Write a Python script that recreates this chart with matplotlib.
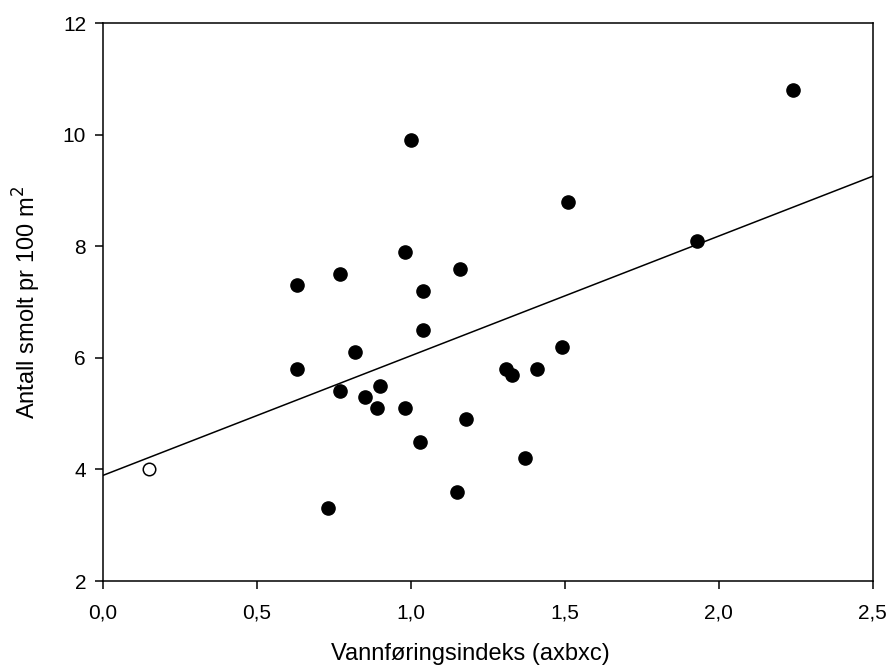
import numpy as np
import matplotlib.pyplot as plt

plt.rcParams['font.family'] = ['Liberation Sans', 'DejaVu Sans']

# filled points
x_fill = [0.73, 0.63, 0.63, 0.77, 0.77, 0.82, 0.85, 0.89, 0.90, 0.98, 0.98, 1.00,
          1.03, 1.04, 1.04, 1.15, 1.16, 1.18, 1.31, 1.33, 1.37, 1.41, 1.49, 1.51,
          1.93, 2.24]
y_fill = [3.3, 7.3, 5.8, 7.5, 5.4, 6.1, 5.3, 5.1, 5.5, 7.9, 5.1, 9.9,
          4.5, 7.2, 6.5, 3.6, 7.6, 4.9, 5.8, 5.7, 4.2, 5.8, 6.2, 8.8,
          8.1, 10.8]
# open point
x_open = [0.15]
y_open = [4.0]

xticks = [0.0, 0.5, 1.0, 1.5, 2.0, 2.5]
xticklabels = ['0,0', '0,5', '1,0', '1,5', '2,0', '2,5']
yticks = [2, 4, 6, 8, 10, 12]

fig = plt.figure(figsize=(8.91, 6.71), dpi=100)
ax = fig.add_axes([0.1153, 0.1341, 0.8642, 0.8316])

# regression line over all points
x_all = np.array(x_fill + x_open)
y_all = np.array(y_fill + y_open)
slope, icpt = np.polyfit(x_all, y_all, 1)
xl = np.array([0.0, 2.5])
ax.plot(xl, icpt + slope * xl, color='black', lw=1.1, zorder=2)

ax.plot(x_fill, y_fill, 'o', color='black', ms=9.5, zorder=3)
ax.plot(x_open, y_open, 'o', mfc='white', mec='black', mew=1.1, ms=9, zorder=3)

ax.set_xlim(0, 2.5)
ax.set_ylim(2, 12)
ax.set_xticks(xticks)
ax.set_xticklabels(xticklabels)
ax.set_yticks(yticks)
ax.tick_params(direction='out', length=6, width=1.1, labelsize=15,
               top=False, right=False)
ax.tick_params(axis='x', pad=10)
ax.tick_params(axis='y', pad=6)
for s in ax.spines.values():
    s.set_linewidth(1.1)

ax.set_xlabel('Vannføringsindeks (axbxc)', fontsize=17, labelpad=15)
ax.xaxis.label.set_x(0.478)
ax.set_ylabel('Antall smolt pr 100 m$^2$', fontsize=17, labelpad=14)

plt.savefig('out.png', dpi=100)
